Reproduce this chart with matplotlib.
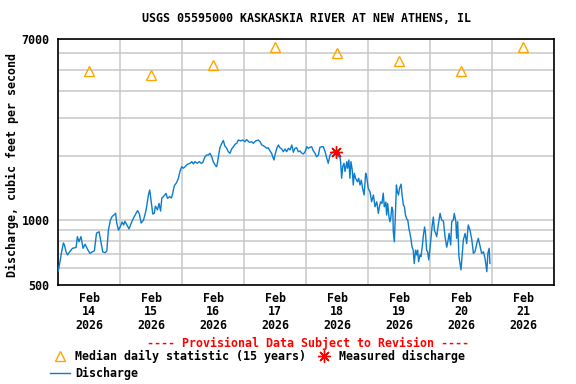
import numpy as np
import pandas as pd
import matplotlib
matplotlib.use('Agg')
import matplotlib.pyplot as plt
import matplotlib.dates as mdates
from matplotlib.lines import Line2D
from matplotlib.ticker import FixedLocator, NullFormatter, FuncFormatter

plt.rcParams['font.family'] = ['DejaVu Sans Mono', 'DejaVu Sans']
plt.rcParams['font.weight'] = 'bold'
plt.rcParams['font.size'] = 8.4

start = pd.Timestamp('2026-02-14 00:00')

# discharge readings: hours after Feb 14 00:00, cubic feet per second
hours = [0.1, 0.8, 1.4, 2.1, 2.5, 3.1, 3.7, 4.5, 5.6, 7.0, 7.5, 8.1, 8.9, 9.7, 10.5,
         11.6, 12.4, 13.3, 14.1, 14.9, 15.9, 16.5, 17.3, 18.2, 18.9, 19.5, 20.3, 21.0,
         21.9, 22.3, 22.7, 23.4, 24.2, 24.8, 25.4, 25.9, 26.7, 27.5, 28.5, 29.4, 30.8,
         31.5, 32.2, 33.1, 33.9, 34.3, 35.0, 35.5, 36.0, 36.7, 37.3, 37.7, 38.5, 39.1,
         39.7, 40.2, 41.0, 41.8, 42.4, 43.2, 43.9, 44.4, 45.0, 45.9, 46.6, 47.2, 47.9,
         48.5, 49.2, 49.8, 50.4, 51.1, 51.8, 52.4, 53.0, 53.9, 54.7, 55.4, 56.0, 56.9,
         57.6, 58.2, 58.8, 59.5, 60.1, 60.8, 61.4, 61.8, 62.2, 62.7, 63.4, 64.0, 64.6,
         65.3, 65.9, 66.6, 67.2, 67.9, 68.5, 69.2, 69.8, 70.7, 71.5, 72.4, 73.0, 74.1,
         75.0, 75.6, 76.5, 77.5, 78.2, 78.9, 79.5, 80.1, 80.8, 81.4, 82.1, 82.7, 83.1,
         83.6, 84.0, 84.7, 85.3, 85.9, 86.6, 87.2, 87.9, 88.5, 89.2, 89.8, 90.5, 91.1,
         91.7, 92.4, 93.0, 93.7, 94.3, 95.0, 95.6, 96.3, 96.9, 97.5, 98.2, 98.8, 99.5,
         100.1, 100.8, 101.4, 102.1, 102.7, 103.4, 104.0, 104.6, 105.3, 106.0, 106.6,
         107.2, 107.9, 108.5, 108.9, 109.4, 109.8, 110.2, 110.7, 111.1, 111.8, 112.1,
         112.6, 113.0, 113.4, 113.9, 114.3, 114.7, 115.2, 115.9, 116.4, 116.9, 117.4,
         117.9, 118.5, 119.1, 119.5, 120.1, 120.8, 121.4, 122.1, 122.7, 123.4, 124.0,
         124.4, 124.9, 125.4, 125.9, 126.3, 126.9, 127.2, 127.6, 128.1, 128.5, 128.8,
         129.2, 129.6, 129.8, 130.2, 130.6, 131.0, 131.4, 131.8, 132.2, 132.8, 133.2,
         133.7, 134.1, 134.5, 135.0, 135.4, 135.8, 136.3, 136.7, 137.0, 137.5, 137.9,
         138.4, 138.9, 139.2, 139.6, 140.1, 140.5, 141.0, 141.4, 141.9, 142.2, 142.7,
         143.1, 143.5, 144.0, 144.5, 144.8, 145.3, 145.7, 146.2, 146.6, 147.2, 147.9,
         148.5, 149.2, 149.8, 150.5, 150.9, 151.4, 152.0, 152.4, 153.0, 153.4, 154.0,
         154.3, 154.7, 155.2, 155.6, 156.0, 156.3, 156.9, 157.6, 158.2, 158.8, 159.5,
         160.2, 160.8, 161.4, 162.1, 162.7, 163.4, 164.0, 164.7, 165.3, 166.0, 166.4,
         166.9, 167.2]
cfs = [580, 645, 714, 785, 768, 714, 690, 714, 741, 748, 840, 795, 840, 741, 775,
       727, 702, 714, 722, 872, 885, 810, 714, 707, 720, 900, 1004, 1045,
       1065, 1080, 978, 900, 940, 983, 952, 990, 952, 912, 983, 1035, 1111,
       1070, 972, 1004, 1090, 1157, 1313, 1385, 1248, 1070, 1080, 1166, 1120, 1200,
       1105, 1271, 1298, 1336, 1267, 1290, 1271, 1336, 1447, 1500, 1571, 1690, 1779,
       1750, 1779, 1813, 1833, 1845, 1878, 1833, 1878, 1845, 1878, 1845, 1858, 1980,
       2017, 2017, 2054, 1980, 1878, 1813, 1779, 1878, 2017, 2185, 2286, 2356, 2220,
       2167, 2090, 2054, 2151, 2204, 2260, 2286, 2369, 2345, 2369, 2326, 2380, 2310,
       2326, 2286, 2345, 2369, 2326, 2245, 2228, 2204, 2167, 2180, 2105, 2054, 1980,
       1912, 2017, 2167, 2245, 2180, 2151, 2090, 2151, 2090, 2167, 2128, 2245, 2076,
       2167, 2180, 2090, 2105, 2060, 2040, 2083, 2204, 2167, 2190, 2204, 2112, 2054,
       1980, 2017, 2190, 2204, 2204, 2090, 1957, 1845, 2017, 2054, 2090,
       2068, 2040, 1980, 2054, 1878, 1571, 1779, 1845, 1690, 1878, 1750,
       1912, 1571, 1878, 1717, 1462, 1658, 1571, 1514, 1571, 1462, 1540,
       1411, 1313, 1658, 1594, 1411, 1355, 1221, 1313, 1157, 1221, 1078,
       1157, 1221, 1200, 1340, 1157, 1217, 1059, 1200, 1040, 986, 1022,
       1152, 1111, 885, 795, 1059, 1462, 1355, 1313, 1411, 1475, 1313,
       1179, 1157, 1059, 1015, 1004, 922, 862, 810, 755, 727, 630,
       727, 690, 727, 642, 690, 678, 755, 845, 932, 885, 727,
       712, 654, 743, 855, 935, 1037, 900, 870, 840, 952, 1078,
       1004, 993, 840, 750, 795, 870, 768, 986, 1004, 1078, 986,
       825, 986, 678, 630, 588, 654, 810, 870, 780, 952, 900,
       810, 702, 714, 780, 825, 755, 702, 714, 666, 577, 702,
       741, 630]

# median daily statistic (15 years), one per day at noon
median_days = ['2026-02-14', '2026-02-15', '2026-02-16', '2026-02-17',
               '2026-02-18', '2026-02-19', '2026-02-20', '2026-02-21']
median_cfs = [4970, 4760, 5300, 6420, 6020, 5530, 4970, 6420]

# field measurement
meas_hour = 107.6
meas_cfs = 2090

blue = '#0a7dcf'
orange = '#ffa500'

t = start + pd.to_timedelta(hours, unit='h')
t_med = pd.to_datetime(median_days) + pd.Timedelta(hours=12)
t_meas = start + pd.Timedelta(hours=meas_hour)

fig = plt.figure(figsize=(5.76, 3.84), dpi=100)
ax = fig.add_axes([58/576, 1-285/384, 496/576, 246/384])

ax.plot(t, cfs, color=blue, lw=1.0, zorder=3)
ax.plot(t_med, median_cfs, ls='none', marker='^', ms=7.5, mfc='none',
        mec=orange, mew=1.0, zorder=4)
ax.plot([t_meas], [meas_cfs], ls='none', marker=(8, 2, 0), ms=9,
        color='red', mew=1.0, zorder=5)

ax.set_yscale('log')
ax.set_ylim(500, 7000)
ax.yaxis.set_major_locator(FixedLocator([500, 1000, 7000]))
ax.yaxis.set_major_formatter(FuncFormatter(lambda v, p: '%d' % v))
ax.yaxis.set_minor_locator(FixedLocator([600, 700, 800, 900, 2000, 3000,
                                         4000, 5000, 6000]))
ax.yaxis.set_minor_formatter(NullFormatter())

ax.set_xlim(start, start + pd.Timedelta(days=8))
ax.xaxis.set_major_locator(mdates.HourLocator(byhour=[12]))
ax.xaxis.set_major_formatter(mdates.DateFormatter('%b\n%d\n%Y'))
ax.xaxis.set_minor_locator(mdates.DayLocator())

ax.tick_params(which='both', length=0)
ax.tick_params(axis='y', pad=6)
ax.tick_params(axis='x', pad=5)
for lab in ax.get_xticklabels():
    lab.set_linespacing(1.05)

ax.set_axisbelow(True)
ax.xaxis.grid(True, which='minor', color='#c8c8c8', lw=1.1)
ax.xaxis.grid(False, which='major')
ax.yaxis.grid(True, which='both', color='#c8c8c8', lw=1.1)
for s in ax.spines.values():
    s.set_linewidth(1.2)

fig.text(306/576, 1-19/384, 'USGS 05595000 KASKASKIA RIVER AT NEW ATHENS, IL',
         ha='center', va='center')
fig.text(12/576, 1-165/384, 'Discharge, cubic feet per second',
         rotation=90, ha='center', va='center')
fig.text(308/576, 1-343/384, '---- Provisional Data Subject to Revision ----',
         ha='center', va='center', color='red')

handles = [Line2D([], [], ls='none', marker='^', ms=7.5, mfc='none', mec=orange),
           Line2D([], [], color=blue, lw=1.0),
           Line2D([], [], ls='none', marker=(8, 2, 0), ms=9, color='red')]
labels = ['Median daily statistic (15 years)', 'Discharge', 'Measured discharge']
fig.legend(handles, labels, ncol=2, loc='upper left',
           bbox_to_anchor=(50/576, 1-350/384), frameon=False, borderpad=0,
           borderaxespad=0, handlelength=1.7, handletextpad=0.45,
           columnspacing=0.7, labelspacing=0.35)

fig.savefig('out.png', dpi=100)
